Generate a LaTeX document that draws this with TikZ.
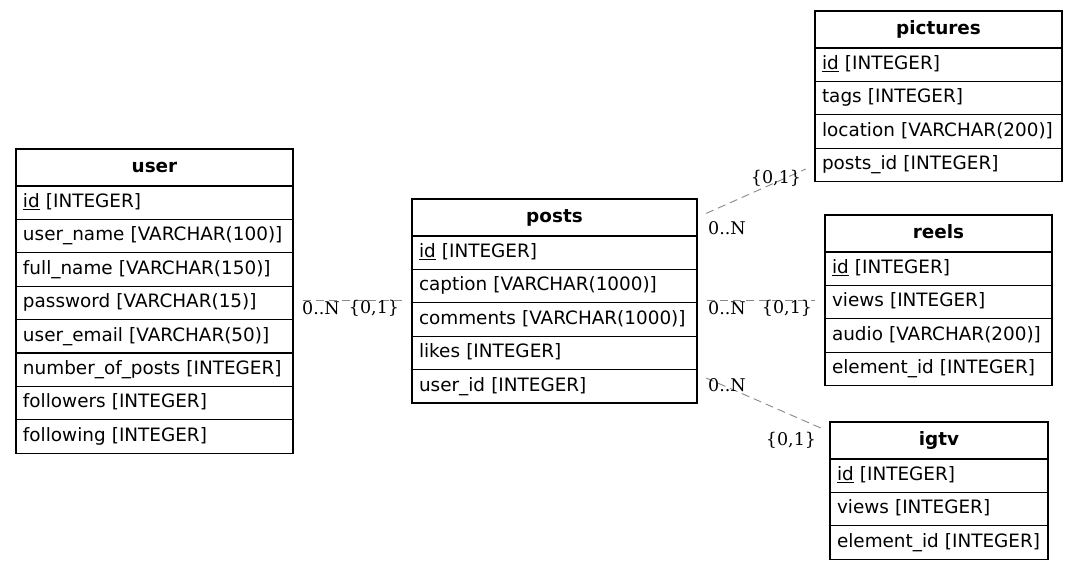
\documentclass[tikz,border=0pt]{standalone}
\usepackage{fontspec}
\setmainfont{DejaVu Sans}
\newfontfamily\lblfont{DejaVu Serif}
\usetikzlibrary{positioning}

\definecolor{relgray}{HTML}{888888}
\tikzset{
  tbl/.style={draw, line width=1.1pt, outer sep=0pt, inner xsep=7pt, inner ysep=0pt,
    text height=13.5pt, text depth=4pt},
  hdr/.style={tbl, anchor=north west, minimum height=37pt, align=center,
    font=\fontsize{18.4}{20}\selectfont\bfseries},
  fld/.style={tbl, minimum height=33.4pt, align=left,
    font=\fontsize{18.4}{20}\selectfont},
  rel/.style={draw=relgray, line width=0.9pt, dash pattern=on 8pt off 5pt,
    shorten <=10pt, shorten >=10pt},
  card/.style={inner sep=0pt, font=\lblfont\fontsize{17.5}{18}\selectfont}
}

\begin{document}
\begin{tikzpicture}[x=1pt,y=-1pt]
  \useasboundingbox (0,0) rectangle (1079,570);

  % user
  \node[hdr, text width=263pt] (user) at (16,149) {user};
  \node[fld, text width=263pt, below=0pt of user] (user1) {\underline{id} [INTEGER]};
  \node[fld, text width=263pt, below=0pt of user1] (user2) {\mbox{user\_name [VARCHAR(100)]}};
  \node[fld, text width=263pt, below=0pt of user2] (user3) {full\_name [VARCHAR(150)]};
  \node[fld, text width=263pt, below=0pt of user3] (user4) {password [VARCHAR(15)]};
  \node[fld, text width=263pt, below=0pt of user4] (user5) {user\_email [VARCHAR(50)]};
  \node[fld, text width=263pt, below=0pt of user5] (user6) {\mbox{number\_of\_posts [INTEGER]}};
  \node[fld, text width=263pt, below=0pt of user6] (user7) {followers [INTEGER]};
  \node[fld, text width=263pt, below=0pt of user7] (user8) {following [INTEGER]};

  % posts
  \node[hdr, text width=271pt] (posts) at (412,199) {posts};
  \node[fld, text width=271pt, below=0pt of posts] (posts1) {\underline{id} [INTEGER]};
  \node[fld, text width=271pt, below=0pt of posts1] (posts2) {caption [VARCHAR(1000)]};
  \node[fld, text width=271pt, below=0pt of posts2] (posts3) {\mbox{comments [VARCHAR(1000)]}};
  \node[fld, text width=271pt, below=0pt of posts3] (posts4) {likes [INTEGER]};
  \node[fld, text width=271pt, below=0pt of posts4] (posts5) {user\_id [INTEGER]};

  % pictures
  \node[hdr, text width=233pt] (pic) at (815,11) {pictures};
  \node[fld, text width=233pt, below=0pt of pic] (pic1) {\underline{id} [INTEGER]};
  \node[fld, text width=233pt, below=0pt of pic1] (pic2) {tags [INTEGER]};
  \node[fld, text width=233pt, below=0pt of pic2] (pic3) {\mbox{location [VARCHAR(200)]}};
  \node[fld, text width=233pt, below=0pt of pic3] (pic4) {posts\_id [INTEGER]};

  % reels
  \node[hdr, text width=213pt] (reels) at (825,215) {reels};
  \node[fld, text width=213pt, below=0pt of reels] (reels1) {\underline{id} [INTEGER]};
  \node[fld, text width=213pt, below=0pt of reels1] (reels2) {views [INTEGER]};
  \node[fld, text width=213pt, below=0pt of reels2] (reels3) {\mbox{audio [VARCHAR(200)]}};
  \node[fld, text width=213pt, below=0pt of reels3] (reels4) {\mbox{element\_id [INTEGER]}};

  % igtv
  \node[hdr, text width=204pt] (igtv) at (830,422) {igtv};
  \node[fld, text width=204pt, below=0pt of igtv] (igtv1) {\underline{id} [INTEGER]};
  \node[fld, text width=204pt, below=0pt of igtv1] (igtv2) {views [INTEGER]};
  \node[fld, text width=204pt, below=0pt of igtv2] (igtv3) {\mbox{element\_id [INTEGER]}};

  % relations
  \coordinate (ya) at (0,300);
  \coordinate (yb) at (0,374);
  \coordinate (yc) at (0,432);
  \draw[rel] (user4.east |- ya) -- (posts2.west |- ya);
  \draw[rel] (posts.east) -- (pic4.west);
  \draw[rel] (posts2.east |- ya) -- (reels2.west |- ya);
  \draw[rel] (posts5.east |- yb) -- (igtv.west |- yc);

  \node[card] (c1a) at (321,308) {0..N};
  \node[card] (c1b) at (374,308) {\{0,1\}};
  \node[card] (c2a) at (727,228) {0..N};
  \node[card] (c2b) at (776,178) {\{0,1\}};
  \node[card] (c3a) at (727,308) {0..N};
  \node[card] (c3b) at (787,308) {\{0,1\}};
  \node[card] (c4a) at (727,385) {0..N};
  \node[card] (c4b) at (791,440) {\{0,1\}};
\end{tikzpicture}
\end{document}
